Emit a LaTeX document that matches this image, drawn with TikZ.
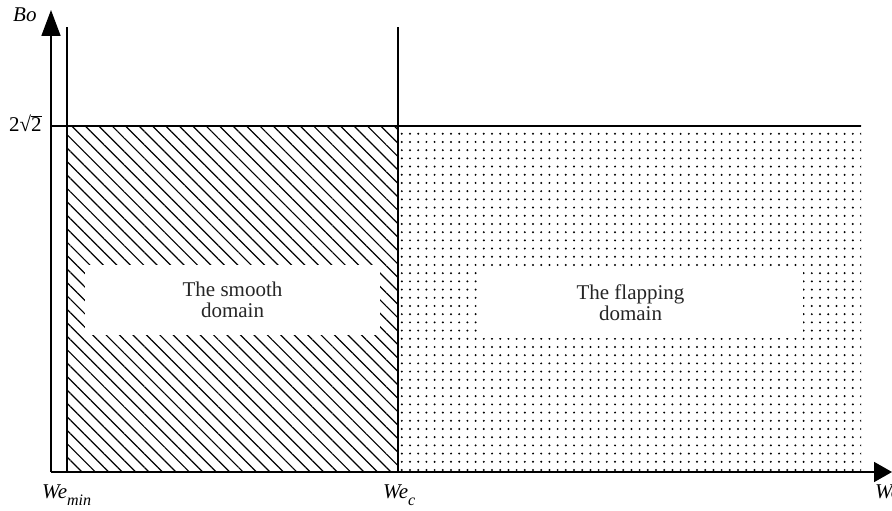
\documentclass[tikz,border=0pt]{standalone}
\usepackage{fontspec}
\setmainfont{Liberation Serif}
\usetikzlibrary{arrows.meta,patterns.meta}
\begin{document}
\begin{tikzpicture}[x=1pt,y=1pt,
  axis/.style={line width=1.8pt},
  border/.style={line width=1.8pt},
  lbl/.style={font=\fontsize{21}{22}\selectfont, inner sep=0pt},
  domlbl/.style={font=\fontsize{21}{21}\selectfont, align=center, fill=white, inner sep=0pt, text=black!85}]
\useasboundingbox (0,0) rectangle (892,511);
% regions
\path[pattern={Lines[angle=-45,distance=9.5pt,line width=1.2pt]}] (67,39) rectangle (398,385);
\path[pattern={Dots[radius=1.1pt,distance=8.2pt]}] (398,39) rectangle (861,385);
% white label boxes
\node[domlbl, minimum width=295pt, minimum height=70pt] (smooth) at (232.5,211) {The smooth\\domain};
\node[domlbl, minimum width=325pt, minimum height=71pt] (flap) at (640.5,208.5) {\hspace*{-20pt}The flapping\\\hspace*{-20pt}domain};
% coordinates
\coordinate (O) at (51,39);
\coordinate (ytip) at (51,501);
\coordinate (xtip) at (892,39);
\coordinate (mintop) at (67,484);
\coordinate (minbot) at (67,39);
\coordinate (ctop) at (398,484);
\coordinate (cbot) at (398,39);
\coordinate (lvlL) at (51,385);
\coordinate (lvlR) at (861,385);
% lines
\draw[border] (minbot) -- (mintop);
\draw[border] (cbot) -- (ctop);
\draw[border] (lvlL) -- (lvlR);
\draw[axis,-{Triangle[length=26pt,width=19pt]}] (O) -- (ytip);
\draw[axis,-{Triangle[length=18pt,width=20pt]}] (O) -- (xtip);
% labels
\node[lbl, anchor=base west] (bo) at (13,489) {\textit{Bo}};
\node[lbl, anchor=base west] (lvl) at (9,379) {2√\rlap{\rule[0.72em]{0.52em}{0.06em}}2};
\node[lbl, anchor=base west] (wm) at (42,12) {\textit{We}\raisebox{-0.3em}{\fontsize{16}{16}\selectfont\textit{min}}};
\node[lbl, anchor=base west] (wc) at (383,12) {\textit{We}\raisebox{-0.3em}{\fontsize{16}{16}\selectfont\textit{c}}};
\node[lbl, anchor=base west] (we) at (875,12) {\textit{We}};
\end{tikzpicture}
\end{document}
